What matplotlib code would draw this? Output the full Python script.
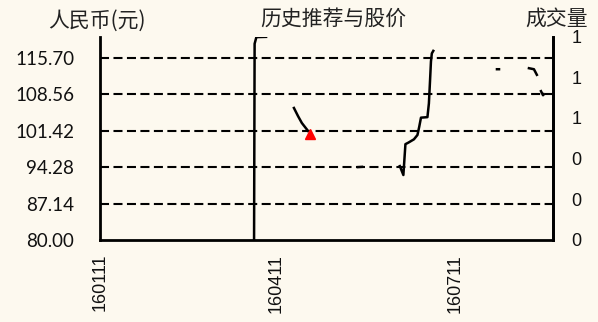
import numpy as np
import matplotlib.pyplot as plt

plt.rcParams['lines.scale_dashes'] = False

# trading day index (0 = 160111) and close price, NaN = gap
days = [52.5, 52.7, 53.3, 56.6, np.nan,
        66.1, 67.5, 68.8, 70.9, np.nan,
        87.9, 89.3, np.nan,
        102.2, 103.4, 104.1, 105.1, 107.0, 108.2, 108.8, 109.4, 111.6, 112.1,
        112.5, 112.8, 113.1, 113.6, np.nan,
        135.3, 136.0, np.nan,
        146.2, 147.9, 148.9, np.nan,
        150.3, 151.0, 151.3]
price = [78.0, 118.5, 119.8, 119.85, np.nan,
         105.9, 104.3, 102.95, 101.4, np.nan,
         94.3, 94.35, np.nan,
         94.5, 92.75, 98.8, 99.1, 99.75, 100.6, 102.2, 104.0, 104.1, 106.8,
         111.4, 115.0, 116.6, 117.1, np.nan,
         113.5, 113.5, np.nan,
         113.7, 113.5, 112.4, np.nan,
         109.2, 108.4, 108.6]

rec_day = [71.7]
rec_price = [100.8]

yticks = [80.00, 87.14, 94.28, 101.42, 108.56, 115.70]
xticks = [0, 60, 121]
xlabels = ['160111', '160411', '160711']
vol_ticks = [0, 0.2, 0.4, 0.6, 0.8, 1.0]

bg = '#fdf9ef'
fig = plt.figure(figsize=(5.98, 3.22), dpi=100, facecolor=bg)
ax = fig.add_axes([100/598, 82/322, 453/598, 203.5/322])
ax.set_facecolor(bg)

for y in yticks[1:]:
    ax.axhline(y, color='black', lw=1.5, dashes=(6.5, 3.2), zorder=1)

ax.plot(days, price, color='black', lw=1.8, zorder=3)
ax.plot(rec_day, rec_price, marker='^', color='red', ms=7.5, ls='none', zorder=4)

ax.set_xlim(0, 154.4)
ax.set_ylim(80, 119.92)
ax.set_yticks(yticks)
ax.set_yticklabels(['%.2f' % v for v in yticks], fontfamily='Lato', fontsize=13.5, color='#111111')
ax.set_xticks(xticks)
ax.set_xticklabels(xlabels, rotation=90, fontfamily='Liberation Sans', fontsize=13, color='#111111')
ax.tick_params(axis='y', length=0, pad=18.5)
ax.tick_params(axis='x', length=0, pad=10)
for s in ['left', 'bottom', 'right']:
    ax.spines[s].set_linewidth(2)
    ax.spines[s].set_color('black')
ax.spines['top'].set_visible(False)

ax2 = ax.twinx()
ax2.set_ylim(0, 1.0)
ax2.set_yticks(vol_ticks)
ax2.set_yticklabels(['%.0f' % v for v in vol_ticks], fontfamily='Liberation Sans', fontsize=13, color='#111111')
ax2.tick_params(axis='y', length=0, pad=13.5)
for s in ['left', 'top', 'bottom']:
    ax2.spines[s].set_visible(False)
ax2.spines['right'].set_linewidth(2)

cjk = ['Noto Sans CJK SC', 'DejaVu Sans']
fig.text(97/598, 1 - 21/322, '人民币(元)', family=cjk, fontsize=15, ha='center', va='center', color='#222222')
fig.text(333/598, 1 - 19/322, '历史推荐与股价', family=cjk, fontsize=15, ha='center', va='center', color='#222222')
fig.text(557/598, 1 - 19/322, '成交量', family=cjk, fontsize=15, ha='center', va='center', color='#222222')

fig.savefig('out.png', dpi=100, facecolor=bg)
